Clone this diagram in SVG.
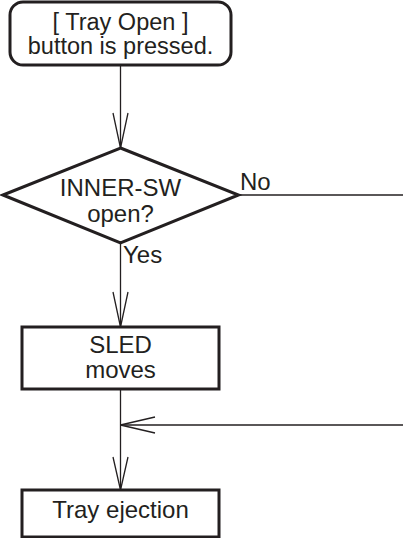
<svg xmlns="http://www.w3.org/2000/svg" width="403" height="538" viewBox="0 0 403 538">
<defs>
<style>
.box{fill:#fff;stroke:#231f20;stroke-width:3}
.t{font-family:"Liberation Sans",Arial,Helvetica,sans-serif;font-size:24px;fill:#231f20;text-anchor:middle}
.s{font-size:23.5px}
.l{font-family:"Liberation Sans",Arial,Helvetica,sans-serif;font-size:24px;fill:#231f20}
.c{fill:none;stroke:#231f20;stroke-width:1.3}
</style>
</defs>
<rect width="403" height="538" fill="#fff"/>
<g id="connectors">
<line class="c" x1="120.5" y1="65" x2="120.5" y2="148"/>
<polyline class="c" points="113,113 120.5,148 128,113"/>
<line class="c" x1="238.5" y1="195" x2="403" y2="195"/>
<line class="c" x1="120.5" y1="243" x2="120.5" y2="327"/>
<polyline class="c" points="113,292 120.5,327 128,292"/>
<line class="c" x1="120.5" y1="389" x2="120.5" y2="490"/>
<line class="c" x1="120.5" y1="425" x2="403" y2="425"/>
<polyline class="c" points="155,417 120.5,425 155,433"/>
<polyline class="c" points="113,457 120.5,490 128,457"/>
<text class="l" x="240" y="190">No</text>
<text class="l" x="123" y="263">Yes</text>
</g>
<g id="start">
<rect class="box" x="10" y="2" width="221" height="63" rx="13"/>
<text class="t s" x="120.5" y="30">[ Tray Open ]</text>
<text class="t s" x="120.5" y="54">button is pressed.</text>
</g>
<g id="decision">
<polygon class="box" points="120.5,148 238.5,195 120.5,243 3,195"/>
<text class="t" x="120.5" y="196">INNER-SW</text>
<text class="t" x="120.5" y="222">open?</text>
</g>
<g id="sled">
<rect class="box" x="22" y="327" width="197" height="62"/>
<text class="t" x="120.5" y="353">SLED</text>
<text class="t" x="120.5" y="378">moves</text>
</g>
<g id="eject">
<rect class="box" x="22" y="490" width="197" height="47"/>
<text class="t" x="120.5" y="518">Tray ejection</text>
</g>
</svg>
